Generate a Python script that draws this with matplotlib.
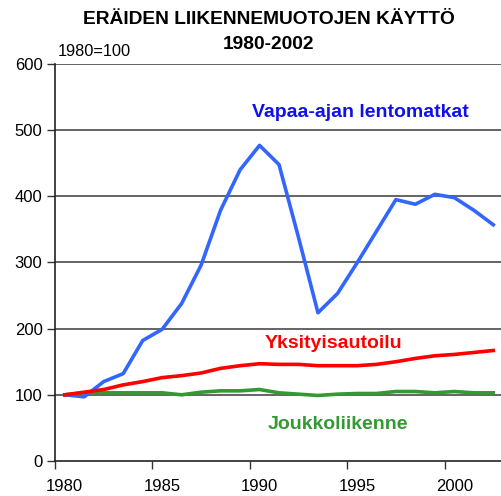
import matplotlib
matplotlib.use("Agg")
import matplotlib.pyplot as plt
from matplotlib.ticker import FixedLocator

plt.rcParams['font.family'] = ['Liberation Sans', 'DejaVu Sans']

years = list(range(1980, 2003))
lento = [100, 97, 120, 132, 182, 199, 238, 296, 379, 440, 477, 448, 338, 224, 253,
         299, 347, 395, 388, 403, 398, 379, 357]
auto = [100, 104, 108, 115, 120, 126, 129, 133, 140, 144, 147, 146, 146, 144, 144,
        144, 146, 150, 155, 159, 161, 164, 167]
jouk = [100, 103, 103, 103, 103, 103, 100, 104, 106, 106, 108, 103, 101, 99, 101,
        102, 102, 105, 105, 103, 105, 103, 103]

series_names = ["Vapaa-ajan lentomatkat", "Yksityisautoilu", "Joukkoliikenne"]
yticks = [0, 100, 200, 300, 400, 500, 600]
xlabels = [1980, 1985, 1990, 1995, 2000]

fig = plt.figure(figsize=(5.02, 4.96), dpi=100)
ax = fig.add_axes([0.1096, 0.0706, 0.8924, 0.8004])

for y in yticks[1:]:
    ax.axhline(y, color='#3a3a3a', lw=1.1, zorder=1)

ax.plot(years, lento, color='#3366FF', lw=2.6, zorder=3)
ax.plot(years, auto, color='#FF0000', lw=2.6, zorder=3)
ax.plot(years, jouk, color='#339933', lw=2.6, zorder=2)

ax.set_xlim(1979.5, 2002.5)
ax.set_ylim(0, 600)
ax.set_yticks(yticks)
ax.xaxis.set_major_locator(FixedLocator([1979.5, 1984.5, 1989.5, 1994.5, 1999.5]))
ax.set_xticklabels([])
ax.xaxis.set_minor_locator(FixedLocator(xlabels))
ax.set_xticklabels([str(x) for x in xlabels], minor=True)
ax.tick_params(axis='x', which='minor', length=0, labelsize=12, pad=13)
ax.tick_params(axis='x', which='major', length=6, width=1, color='#333333')
ax.tick_params(axis='y', length=6, width=1, labelsize=12, pad=3, color='#333333')

for s in ['top', 'right']:
    ax.spines[s].set_visible(False)
for s in ['left', 'bottom']:
    ax.spines[s].set_linewidth(1.2)
    ax.spines[s].set_color('#222222')

ax.text(1995.2, 526, series_names[0], color='#1010EE', fontsize=14, fontweight='bold',
        ha='center', va='center')
ax.text(1993.8, 177, series_names[1], color='#FF0000', fontsize=14, fontweight='bold',
        ha='center', va='center')
ax.text(1994.0, 55, series_names[2], color='#339933', fontsize=14, fontweight='bold',
        ha='center', va='center')

fig.text(0.535, 0.960, "ERÄIDEN LIIKENNEMUOTOJEN KÄYTTÖ", ha='center', va='center',
         fontsize=13.8, fontweight='bold')
fig.text(0.535, 0.911, "1980-2002", ha='center', va='center',
         fontsize=13.8, fontweight='bold')
fig.text(0.116, 0.897, "1980=100", ha='left', va='center', fontsize=11.8)

fig.savefig("out.png", dpi=100)
